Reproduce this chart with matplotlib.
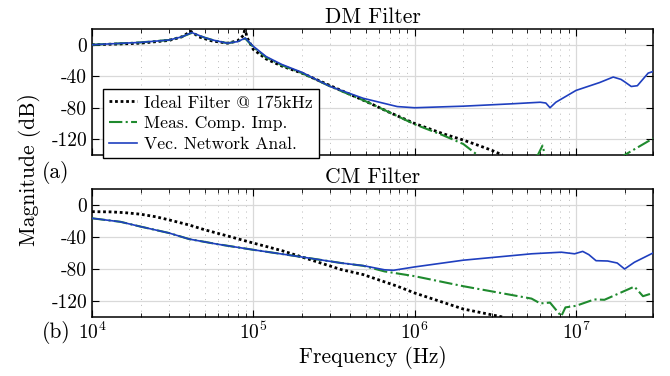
import matplotlib
matplotlib.use('Agg')
import matplotlib.pyplot as plt
from matplotlib.ticker import LogLocator, FixedLocator, NullFormatter

plt.rcParams['font.family'] = 'serif'
plt.rcParams['font.serif'] = ['cmr10']
plt.rcParams['mathtext.fontset'] = 'cm'
plt.rcParams['axes.formatter.use_mathtext'] = True
plt.rcParams['axes.unicode_minus'] = False

# ---- DM filter data (Hz, dB) ----
dm_ideal_f = [1e4, 1.5e4, 2e4, 3e4, 3.6e4, 4.1e4, 4.6e4, 5.5e4, 6.9e4, 8e4, 8.7e4, 8.9e4, 9.1e4,
              1e5, 1.2e5, 1.5e5, 2e5, 3e5, 5e5, 7e5, 1e6, 1.5e6, 2e6, 2.5e6, 3e6, 3.5e6]
dm_ideal_db = [0, 1, 2, 5.5, 10, 17, 10, 5, 2, 5, 12, 22, 10,
               -6, -18, -27, -36, -52, -72, -86, -100, -113, -121, -128, -134, -140]

dm_meas_f = [1e4, 2e4, 3e4, 3.6e4, 4.15e4, 5e4, 5.6e4, 6.9e4, 8e4, 8.9e4, 1e5, 1.2e5, 1.5e5,
             2e5, 3e5, 5e5, 7e5, 1e6, 1.5e6, 2e6, 2.45e6, 3e6, 5.8e6, 6.2e6, 6.5e6, 1e7, 2e7, 3e7]
dm_meas_db = [0, 3, 6, 10, 15, 9, 6, 2, 4, 8, -3, -16, -26,
              -36, -53, -72, -86, -101, -115, -126, -140, -160, -140, -128, -145, -170, -140, -119]

dm_vna_f = [1e4, 2e4, 3e4, 3.6e4, 4.15e4, 5e4, 5.6e4, 6.9e4, 8e4, 8.9e4, 1e5, 1.2e5, 1.5e5,
            2e5, 3e5, 4.8e5, 7.8e5, 1e6, 2e6, 4e6, 6e6, 6.5e6, 6.9e6, 7.5e6, 1e7, 1.4e7, 1.7e7,
            1.9e7, 2e7, 2.2e7, 2.4e7, 2.8e7, 3e7]
dm_vna_db = [0, 3, 6, 10, 15.5, 9, 6, 2, 4, 8.5, -2, -15, -25,
             -35, -53, -68, -78.5, -80, -78, -75, -73, -74, -80, -73, -58, -48, -41,
             -44, -47, -53, -52, -36, -34]

# ---- CM filter data (Hz, dB) ----
cm_ideal_f = [1e4, 1.3e4, 1.6e4, 2e4, 2.5e4, 3e4, 4e4, 5e4, 7e4, 1e5, 1.5e5, 2e5, 3.5e5, 4.8e5,
              7.8e5, 1e6, 2e6, 3.5e6]
cm_ideal_db = [-8.3, -8.6, -9.6, -11.5, -14.8, -18.6, -25, -31, -39, -47.6, -57, -65, -80.7, -87,
               -101.5, -110, -130, -140]

cm_meas_f = [1e4, 1.5e4, 2e4, 3e4, 4e4, 6e4, 1e5, 2e5, 3.5e5, 4.8e5, 6.5e5, 1e6, 2e6, 5.3e6,
             6e6, 6.9e6, 8.1e6, 8.6e6, 1e7, 1.3e7, 1.5e7, 2.3e7, 2.6e7, 3e7]
cm_meas_db = [-16.6, -21, -27, -35, -42.6, -49, -56, -65, -72.5, -76, -83, -89, -101.5, -117,
              -123, -122, -139, -128, -126, -118, -118.5, -102, -114, -110]

cm_vna_f = [1e4, 1.5e4, 2e4, 3e4, 4e4, 6e4, 1e5, 2e5, 3.5e5, 4.8e5, 6.5e5, 7.4e5, 1e6, 2e6,
            5.3e6, 8.1e6, 9.8e6, 1.1e7, 1.2e7, 1.33e7, 1.57e7, 1.8e7, 2e7, 2.3e7, 3e7]
cm_vna_db = [-16.6, -21, -27, -35, -42.6, -49, -56, -65, -72.5, -75.8, -81, -81.6, -77.4, -69,
             -61, -59, -61, -58, -62, -69.6, -70, -72.5, -80, -71.6, -60]

yticks = [-120, -80, -40, 0]
labels = ['Ideal Filter @ 175kHz', 'Meas. Comp. Imp.', 'Vec. Network Anal.']

green = '#1f8a2e'
blue = '#1f3fbf'

fig = plt.figure(figsize=(6.7, 3.76), dpi=100)
ax1 = fig.add_axes([92/670, 1-155/376, 561/670, 126/376])
ax2 = fig.add_axes([92/670, 1-317/376, 561/670, 128/376])

panels = [(ax1, dm_ideal_f, dm_ideal_db, dm_meas_f, dm_meas_db, dm_vna_f, dm_vna_db, 'DM Filter'),
          (ax2, cm_ideal_f, cm_ideal_db, cm_meas_f, cm_meas_db, cm_vna_f, cm_vna_db, 'CM Filter')]

for ax, fi, di, fm, dmm, fv, dv, title in panels:
    ax.plot(fi, di, color='black', ls=(0, (1, 1)), lw=2.0, label=labels[0], zorder=3)
    ax.plot(fm, dmm, color=green, ls='-.', lw=1.5, label=labels[1], zorder=4)
    ax.plot(fv, dv, color=blue, ls='-', lw=1.2, label=labels[2], zorder=5)
    ax.set_xscale('log')
    ax.set_xlim(1e4, 3e7)
    ax.set_ylim(-140, 20)
    ax.yaxis.set_major_locator(FixedLocator(yticks))
    ax.set_yticklabels([str(v) for v in yticks])
    ax.xaxis.set_major_locator(LogLocator(base=10, numticks=10))
    ax.xaxis.set_minor_locator(LogLocator(base=10, subs=range(2, 10), numticks=20))
    ax.xaxis.set_minor_formatter(NullFormatter())
    ax.grid(which='major', color='0.85', lw=0.9, ls='-')
    ax.grid(which='minor', axis='x', color='0.72', lw=0.7, ls=(0, (1, 5)))
    ax.set_axisbelow(True)
    ax.tick_params(which='both', direction='in', top=True, right=True, labelsize=14)
    ax.tick_params(which='major', length=5)
    ax.tick_params(which='minor', length=3)
    for s in ax.spines.values():
        s.set_linewidth(1.1)
    ax.set_title(title, fontsize=15.5, pad=4)

ax1.tick_params(labelbottom=False)
ax2.set_xlabel('Frequency (Hz)', fontsize=15.5, labelpad=2)
fig.text(30/670, 1-170/376, 'Magnitude (dB)', rotation=90, fontsize=15.5, ha='center', va='center')
fig.text(56/670, 1-173/376, '(a)', fontsize=15.5, ha='center', va='center')
fig.text(56/670, 1-332/376, '(b)', fontsize=15.5, ha='center', va='center')

leg = ax1.legend(loc='upper left', bbox_to_anchor=(103/670, 1-89/376), bbox_transform=fig.transFigure,
                 fontsize=12.7, frameon=True, fancybox=False, edgecolor='black', framealpha=1,
                 borderaxespad=0, handlelength=1.6, handletextpad=0.4, labelspacing=0.3, borderpad=0.35)
leg.get_frame().set_linewidth(1.0)
leg.set_zorder(10)

fig.savefig('out.png', dpi=100)
